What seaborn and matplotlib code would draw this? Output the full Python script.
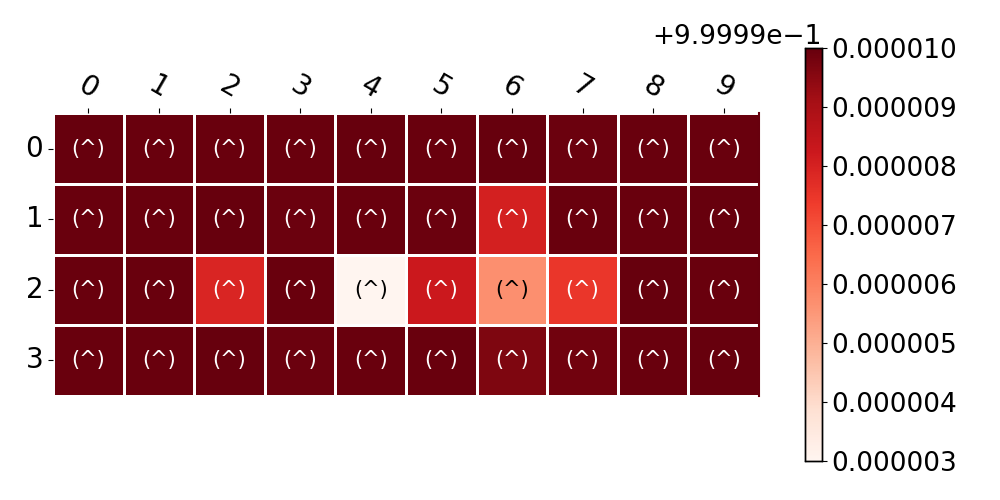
import numpy as np
import pandas as pd
import seaborn as sns
import matplotlib
matplotlib.use("Agg")
import matplotlib.pyplot as plt
from matplotlib.ticker import ScalarFormatter

# Data (values ~ 0.99999 + offset*1e-6)
row_labels = ["0", "1", "2", "3"]
col_labels = ["0", "1", "2", "3", "4", "5", "6", "7", "8", "9"]
row0 = [0.99999998, 0.99999997, 0.99999995, 0.99999996, 0.99999999, 0.99999995, 0.99999999, 0.99999993, 0.99999997, 0.99999996]
row1 = [0.99999995, 0.99999997, 0.99999998, 0.99999993, 0.99999996, 0.99999994, 0.99999804, 0.99999996, 0.99999997, 0.99999998]
row2 = [0.99999996, 0.99999995, 0.99999790, 0.99999997, 0.99999300, 0.99999825, 0.99999570, 0.99999750, 0.99999998, 0.99999996]
row3 = [0.99999997, 0.99999996, 0.99999998, 0.99999994, 0.99999997, 0.99999995, 0.99999965, 0.99999986, 0.99999997, 0.99999998]
annot_text = "(^)"
vmin_val = 0.999993
vmax_val = 1.0

df = pd.DataFrame([row0, row1, row2, row3], index=row_labels, columns=col_labels)
annot = np.full(df.shape, annot_text)

fig = plt.figure(figsize=(10, 5), dpi=100)
ax = fig.add_axes([0.053, 0.078, 0.706, 0.826])
cax = fig.add_axes([0.805, 0.078, 0.017, 0.826])

sns.heatmap(df, ax=ax, cbar_ax=cax, cmap="Reds", vmin=vmin_val, vmax=vmax_val,
            annot=annot, fmt="", annot_kws={"fontsize": 15},
            linewidths=2, linecolor="white", square=True)

for t in ax.texts:
    if t.get_color() != "w":
        t.set_color("black")

ax.xaxis.tick_top()
ax.tick_params(axis="x", labelsize=20, rotation=-30)
ax.tick_params(axis="y", labelsize=20, rotation=0)
ax.set_xlabel("")
ax.set_ylabel("")
ax.spines["right"].set_visible(True)
ax.spines["right"].set_color("#67000d")
ax.spines["right"].set_linewidth(1.5)

fmt = ScalarFormatter(useOffset=True)
fmt.set_powerlimits((-10, 10))
cax.yaxis.set_major_formatter(fmt)
cax.tick_params(labelsize=19)
cax.yaxis.get_offset_text().set_fontsize(19)
for s in cax.spines.values():
    s.set_visible(True)
    s.set_color("black")
    s.set_linewidth(1)

fig.savefig("out.png", dpi=100)
